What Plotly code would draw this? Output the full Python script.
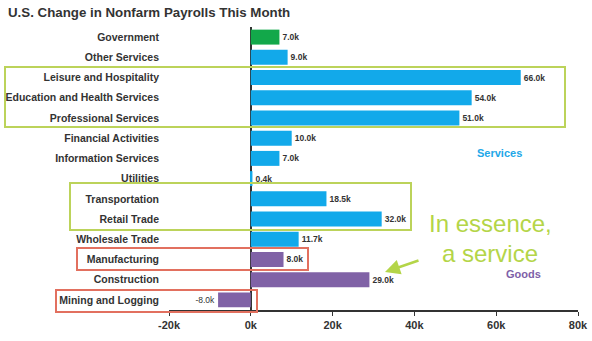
import plotly.graph_objects as go

title = "U.S. Change in Nonfarm Payrolls This Month"
categories = ["Government", "Other Services", "Leisure and Hospitality",
              "Education and Health Services", "Professional Services",
              "Financial Activities", "Information Services", "Utilities",
              "Transportation", "Retail Trade", "Wholesale Trade",
              "Manufacturing", "Construction", "Mining and Logging"]
values = [7000, 9000, 66000, 54000, 51000, 10000, 7000, 400,
          18500, 32000, 11700, 8000, 29000, -8000]
labels = ["7.0k", "9.0k", "66.0k", "54.0k", "51.0k", "10.0k", "7.0k", "0.4k",
          "18.5k", "32.0k", "11.7k", "8.0k", "29.0k", "-8.0k"]
groups = ["gov"] + ["svc"] * 10 + ["goods"] * 3
tick_vals = [-20000, 0, 20000, 40000, 60000, 80000]
tick_text = ["-20k", "0k", "20k", "40k", "60k", "80k"]

colors = {"gov": "#12A84A", "svc": "#12A9EA", "goods": "#8062A6"}

W, H = 592, 341
L, R, T, B = 169, 578, 27, 310


def px(x):
    return (x - L) / (R - L)


def py(y):
    return (B - y) / (B - T)


bar_text = [("<b>%s</b>" % t) if v >= 0 else t for t, v in zip(labels, values)]

fig = go.Figure(go.Bar(
    x=values, y=categories, orientation="h",
    marker=dict(color=[colors[g] for g in groups], line=dict(width=0)),
    text=bar_text, textposition="outside", cliponaxis=False,
    textfont=dict(family="Liberation Sans, Arial", size=8.5, color="#333333"),
    width=0.74,
))

shapes = []
green = "#BCD35A"
red = "#E2705F"
for (x0, y0, x1, y1, c) in [(5, 67, 565, 127, green), (70, 183, 411, 230, green),
                            (77, 248, 308, 270, red), (56, 290, 257, 312, red)]:
    shapes.append(dict(type="rect", xref="paper", yref="paper",
                       x0=px(x0), x1=px(x1), y0=py(y0), y1=py(y1),
                       line=dict(color=c, width=2), layer="above"))

annotations = [
    dict(text="<b>Services</b>", xref="paper", yref="paper", x=px(499), y=py(153),
         showarrow=False, font=dict(family="Liberation Sans, Arial", size=11, color="#22A7E8"),
         xanchor="center", yanchor="middle"),
    dict(text="<b>Goods</b>", xref="paper", yref="paper", x=px(523), y=py(274),
         showarrow=False, font=dict(family="Liberation Sans, Arial", size=11, color="#7E5FA8"),
         xanchor="center", yanchor="middle"),
    dict(text="In essence,", xref="paper", yref="paper", x=px(490), y=py(223),
         showarrow=False, font=dict(family="Liberation Sans, Arial", size=24, color="#B4D548"),
         xanchor="center", yanchor="middle"),
    dict(text="a service", xref="paper", yref="paper", x=px(490), y=py(253),
         showarrow=False, font=dict(family="Liberation Sans, Arial", size=24, color="#B4D548"),
         xanchor="center", yanchor="middle"),
    dict(text="", xref="paper", yref="paper", x=px(385), y=py(272),
         ax=35, ay=-12, axref="pixel", ayref="pixel",
         showarrow=True, arrowhead=2, arrowsize=1.2, arrowwidth=2.5, arrowcolor="#B4D548"),
    dict(text="<b>" + title + "</b>", xref="paper", yref="paper", x=px(6), y=py(12),
         showarrow=False, font=dict(family="Liberation Sans, Arial", size=13.3, color="#333333"),
         xanchor="left", yanchor="middle"),
]

fig.update_layout(
    width=W, height=H, margin=dict(l=L, r=W - R, t=T, b=H - B, autoexpand=False),
    paper_bgcolor="white", plot_bgcolor="white", showlegend=False,
    shapes=shapes, annotations=annotations, bargap=0.26,
    font=dict(family="Liberation Sans, Arial", color="#333333"),
)
fig.update_xaxes(range=[-20000, 80000], tickvals=tick_vals,
                 ticktext=["<b>%s</b>" % t for t in tick_text], automargin=False,
                 showgrid=False, zeroline=True, zerolinecolor="#333333", zerolinewidth=2,
                 showline=True, linecolor="#333333", linewidth=1.5,
                 ticks="outside", ticklen=4, tickcolor="#333333",
                 tickfont=dict(family="Liberation Sans, Arial", size=11, color="#333333"))
fig.update_yaxes(categoryorder="array", categoryarray=categories, autorange="reversed",
                 showgrid=False, showline=False, ticks="", ticklabelstandoff=9, automargin=False,
                 tickfont=dict(family="Liberation Sans, Arial", size=10.5, color="#333333"),
                 tickprefix="<b>", ticksuffix="</b>")

fig.write_html("out.html")
